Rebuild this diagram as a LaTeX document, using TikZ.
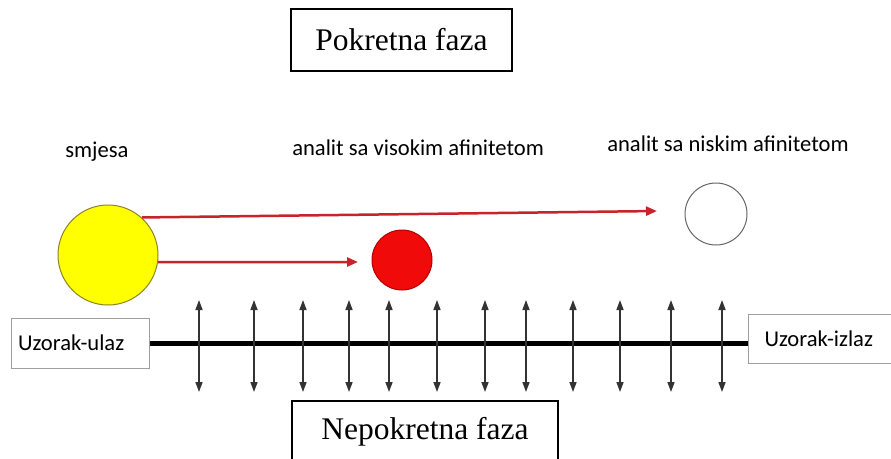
\documentclass[tikz,border=0pt]{standalone}
\usepackage{fontspec}
\setmainfont{Liberation Serif}
\newfontfamily\lblfont{Carlito}
\usetikzlibrary{arrows.meta,positioning,calc}
\definecolor{flowred}{RGB}{200,35,42}
\definecolor{spotred}{RGB}{240,10,10}
\definecolor{spotyellow}{RGB}{255,255,0}
\definecolor{rimolive}{RGB}{140,130,40}
\tikzset{
  >=Stealth,
  every picture/.append style={line width=0.6pt},
}
\tikzset{
  phase/.style={draw, line width=1.4pt, inner sep=0pt, align=center, font=\fontsize{31.5}{36}\selectfont},
  port/.style={draw=gray!75, line width=1pt, inner xsep=7pt, inner ysep=0pt, align=left, font=\lblfont\fontsize{22.6}{25}\selectfont},
  lbl/.style={inner sep=0pt, anchor=base west, font=\lblfont\fontsize{22.6}{25}\selectfont},
  spot/.style={circle, inner sep=0pt, line width=1pt}
}

\begin{document}
\begin{tikzpicture}[
  x=1pt, y=-1pt,
  flow/.style={-{Triangle[length=11pt,width=9pt]}, line width=2.5pt, color=flowred},
  swap/.style={{Triangle[length=10pt,width=7pt]}-{Triangle[length=10pt,width=7pt]}, line width=1.5pt, color=black!80},
  column/.style={line width=5pt}
]
\useasboundingbox (0,0) rectangle (891,458);

% Phases (top and bottom)
\node[phase, minimum width=221pt, minimum height=62pt] (mobile) at (401.5,40) {Pokretna faza};
\node[phase, minimum width=266pt, minimum height=62pt] (fixed) at (425,432) {Nepokretna faza};

% Sample in / out
\node[port, text width=124pt, minimum height=50pt] (ulaz) at (80,343) {Uzorak-ulaz};
\node[port, text width=112pt, inner xsep=16pt, minimum height=49pt, anchor=west] (izlaz) at (748,339) {Uzorak-izlaz};

% Mixture and analytes
\node[spot, draw=rimolive, fill=spotyellow, minimum size=100pt] (mix) at (108,255) {};
\node[spot, draw=red!70!black, fill=spotred, minimum size=60pt] (high) at (402,260) {};
\node[spot, draw=black!60, fill=white, minimum size=62pt] (low) at (716,214) {};

\node[lbl] (mixlbl) at (65,157) {smjesa};
\node[lbl] (highlbl) at (292,155) {analit sa visokim afinitetom};
\node[lbl] (lowlbl) at (607,151) {analit sa niskim afinitetom};

% Migration arrows
\coordinate (lowend) at (657,211);
\coordinate (highend) at (358,262);
\draw[flow] (mix.48) -- (lowend);
\draw[flow] (mix.-8) -- (highend);

% Column
\draw[column] (ulaz.east) -- (ulaz.east -| izlaz.west);

% Exchange between the phases
\foreach \x [count=\i] in {199,254,303,349,389,437,485,526,573,620,671,722} {
  \coordinate (up\i) at (\x,300);
  \coordinate (dn\i) at (\x,392);
  \draw[swap] (up\i) -- (dn\i);
}

\end{tikzpicture}
\end{document}
